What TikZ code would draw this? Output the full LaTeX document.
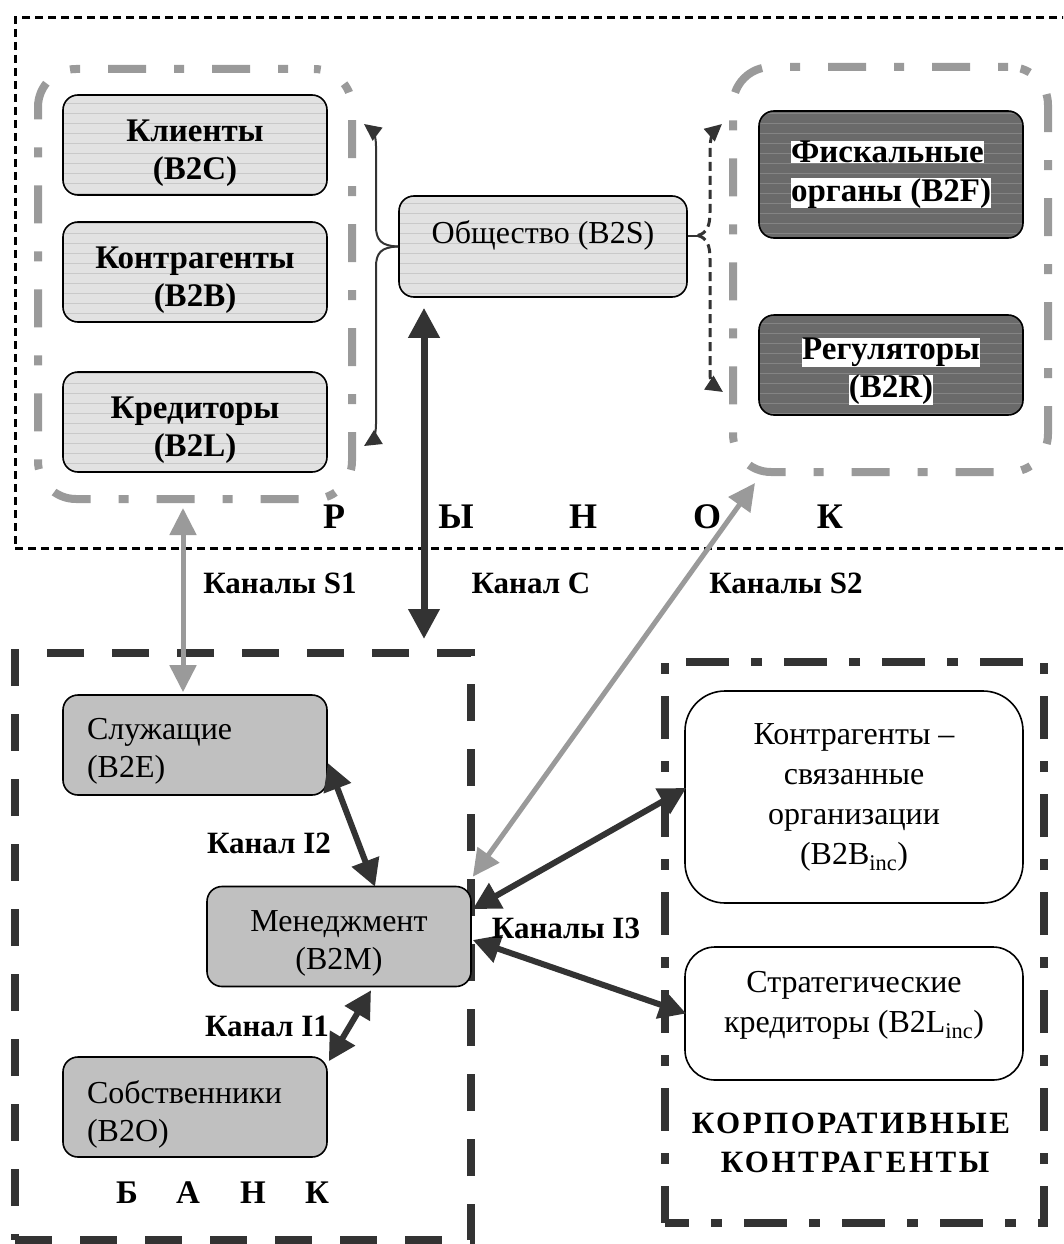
\documentclass[tikz,border=0pt]{standalone}
\usepackage{fontspec}
\setmainfont{Liberation Serif}
\usetikzlibrary{arrows.meta,patterns.meta,calc}
\setlength{\fboxsep}{0pt}

\definecolor{lightbox}{HTML}{E2E2E2}
\definecolor{lightstripe}{HTML}{C9C9C9}
\definecolor{darkbox}{HTML}{6A6A6A}
\definecolor{darkstripe}{HTML}{848484}
\definecolor{midbox}{HTML}{C0C0C0}
\definecolor{ink}{HTML}{333333}
\definecolor{grayline}{HTML}{9A9A9A}

% white band behind a line of text
\newcommand\hl[1]{\colorbox{white}{#1}}
% invisible struts that move a node's text block up or down
\newcommand\padtop[1]{\rule{0pt}{#1}}
\newcommand\padbot[1]{\rule[-#1]{0pt}{#1}}

\tikzset{
  reg/.style={font=\fontsize{32}{38}\selectfont},
  bld/.style={font=\fontsize{31}{38}\selectfont\bfseries},
  boxbld/.style={font=\fontsize{33}{38}\selectfont\bfseries},
  big/.style={font=\fontsize{36}{40}\selectfont\bfseries},
  box/.style={draw=black, line width=1.6pt, rounded corners=15pt, inner sep=0pt,
    minimum width=264pt, minimum height=100pt},
  lightcard/.style={box, boxbld, align=center,
    preaction={fill=lightbox},
    pattern={Lines[angle=0,distance=10pt,line width=1pt]}, pattern color=lightstripe},
  darkcard/.style={box, boxbld, align=center,
    preaction={fill=darkbox},
    pattern={Lines[angle=0,distance=10pt,line width=1pt]}, pattern color=darkstripe},
  bankcard/.style={box, reg, fill=midbox},
  leftcard/.style={bankcard, text width=216pt, inner xsep=24pt, align=left},
  corpcard/.style={draw=black, line width=1.6pt, fill=white,
    font=\fontsize{32}{40}\selectfont, align=center,
    inner sep=0pt, minimum width=338pt},
  grayframe/.style={draw=grayline, line width=8pt, rounded corners=38pt,
    dash pattern=on 38pt off 28pt on 10pt off 28pt, inner sep=0pt},
  darkdash/.style={draw=ink, line width=8pt, dash pattern=on 37pt off 28pt, inner sep=0pt},
  darkdashdot/.style={draw=ink, line width=8pt,
    dash pattern=on 43pt off 22pt on 11pt off 22pt, inner sep=0pt},
  thinarrow/.style={draw=ink, line width=2pt, -{Triangle[length=17pt,width=16pt]}},
  dasharrow/.style={draw=ink, line width=3pt, dash pattern=on 9pt off 5pt,
    -{Triangle[length=17pt,width=16pt]}},
  grayarrow/.style={draw=grayline, line width=5pt,
    {Triangle[length=27pt,width=26pt]}-{Triangle[length=27pt,width=26pt]}},
  darkarrow/.style={draw=ink, line width=6pt,
    {Triangle[length=27pt,width=28pt]}-{Triangle[length=27pt,width=28pt]}},
  mainarrow/.style={draw=ink, line width=7pt,
    {Triangle[length=30pt,width=30pt]}-{Triangle[length=30pt,width=30pt]}},
  chanlabel/.style={bld, anchor=base, inner sep=0pt},
}

\begin{document}
\begin{tikzpicture}[x=1pt,y=-1pt]
\useasboundingbox (0,0) rectangle (1063,1244);
\clip (0,0) rectangle (1063,1244);
\fill[white] (0,0) rectangle (1063,1244);

% ---- market area ----
\node[draw=black, line width=3pt, dash pattern=on 8pt off 5pt, inner sep=0pt,
      minimum width=1062pt, minimum height=530pt] (market) at (546,283) {};

\node[grayframe, dash phase=40pt, minimum width=314pt, minimum height=430pt]
  (grpL) at (195,284) {};
\node[grayframe, dash phase=64pt, minimum width=315pt, minimum height=405pt]
  (grpR) at (890.5,269.5) {};

\node[lightcard] (klient) at (195,145) {\padtop{39pt}Клиенты\\(B2C)};
\node[lightcard] (kontr)  at (195,272) {\padtop{39pt}Контрагенты\\(B2B)};
\node[lightcard] (kred)   at (195,422) {\padtop{39pt}Кредиторы\\(B2L)};

\node[lightcard, reg, minimum width=288pt, minimum height=101pt] (obs) at (543,246.5)
  {Общество (B2S)\padbot{29pt}};

\node[darkcard, align=left, minimum height=127pt] (fisk) at (891,174.5)
  {\hl{Фискальные}\\[1pt]\hl{органы (B2F)}};
\node[darkcard] (regul) at (891,365) {\padtop{35pt}\hl{Регуляторы}\\\hl{(B2R)}};

% society links to the market groups
\coordinate (tipA) at (364,124);
\coordinate (tipB) at (364,446);
\coordinate (tipC) at (722,124);
\coordinate (tipD) at (723,392);
\draw[thinarrow] (obs.west) .. controls (381,246) and (376,240) .. (376,226)
  -- (376,146) .. controls (376,135) and (372,130) .. (tipA);
\draw[thinarrow] (obs.west) .. controls (381,247) and (376,253) .. (376,267)
  -- (376,424) .. controls (376,436) and (372,441) .. (tipB);
\coordinate (obsR) at ($(obs.east)+(10,-11)$);
\draw[draw=ink, line width=2pt] ($(obs.east)+(0,-11)$) -- (obsR);
\draw[dasharrow] (obsR) .. controls (707,233) and (710,226) .. (710,212)
  -- (710,148) .. controls (710,138) and (714,131) .. (tipC);
\draw[dasharrow] (obsR) .. controls (707,238) and (710,245) .. (710,259)
  -- (710,374) .. controls (710,382) and (714,386) .. (tipD);

\foreach \ch/\xx in {Р/334, Ы/456, Н/583, О/707, К/830}
  \node[big, anchor=base, inner sep=0pt] at (\xx,528) {\ch};

% ---- bank ----
\node[darkdash, minimum width=456pt, minimum height=587pt] (bank) at (243,946.5) {};
\node[leftcard] (sluzh) at (195,745) {\padtop{34pt}Служащие\\(B2E)};
\node[bankcard, align=center] (menedzh) at (339,936.5) {\padtop{35pt}Менеджмент\\(B2M)};
\node[leftcard] (sobst) at (195,1107) {\padtop{37pt}Собственники\\(B2O)};
\foreach \ch/\xx in {Б/127, А/188, Н/253, К/317}
  \node[font=\fontsize{33}{38}\selectfont\bfseries, anchor=base, inner sep=0pt]
    at (\xx,1203) {\ch};

% ---- corporate counterparties ----
\node[darkdashdot, dash phase=19pt, minimum width=379pt, minimum height=561pt]
  (corp) at (854.5,942.5) {};
\node[corpcard, rounded corners=40pt, minimum height=212pt] (kbinc) at (854,797)
  {Контрагенты –\\связанные\\организации\\(B2B\textsubscript{inc})};
\node[corpcard, rounded corners=30pt, minimum height=133pt] (kredinc) at (854,1013.5)
  {Стратегические\\кредиторы (B2L\textsubscript{inc})\padbot{23pt}};
\node[font=\fontsize{31}{39}\selectfont\bfseries\addfontfeatures{LetterSpace=8},
      anchor=base, inner sep=0pt] (corpT1) at (851,1133) {КОРПОРАТИВНЫЕ};
\node[font=\fontsize{31}{39}\selectfont\bfseries\addfontfeatures{LetterSpace=8},
      anchor=base, inner sep=0pt] (corpT2) at (855,1172) {КОНТРАГЕНТЫ};

% ---- channels ----
\draw[grayarrow] ($(grpL.south)+(-12,5)$) -- ($(sluzh.north)+(-12,-2)$);
\draw[mainarrow] ($(obs.south)+(-119,10)$) -- ($(bank.north)+(181,-10)$);
\draw[grayarrow] ($(menedzh.north east)+(1,-9)$) -- ($(grpR.south west)+(26,7)$);
\draw[darkarrow] ($(sluzh.east)+(0,18)$) -- ($(menedzh.north)+(36,1)$);
\draw[darkarrow] ($(menedzh.south)+(32,3)$) -- ($(sobst.north east)+(1,5)$);
\draw[darkarrow] ($(menedzh.east)+(1,-27.5)$) -- ($(kbinc.west)+(2,-9)$);
\draw[darkarrow] ($(menedzh.east)+(1,3.5)$) -- ($(kredinc.west)+(2,0)$);

\node[chanlabel] (lS1) at (280,593) {Каналы S1};
\node[chanlabel] (lC)  at (531,593) {Канал С};
\node[chanlabel] (lS2) at (786,593) {Каналы S2};
\node[chanlabel] (lI2) at (269,853) {Канал I2};
\node[chanlabel] (lI1) at (267,1036) {Канал I1};
\node[chanlabel] (lI3) at (566,938) {Каналы I3};
\end{tikzpicture}
\end{document}
